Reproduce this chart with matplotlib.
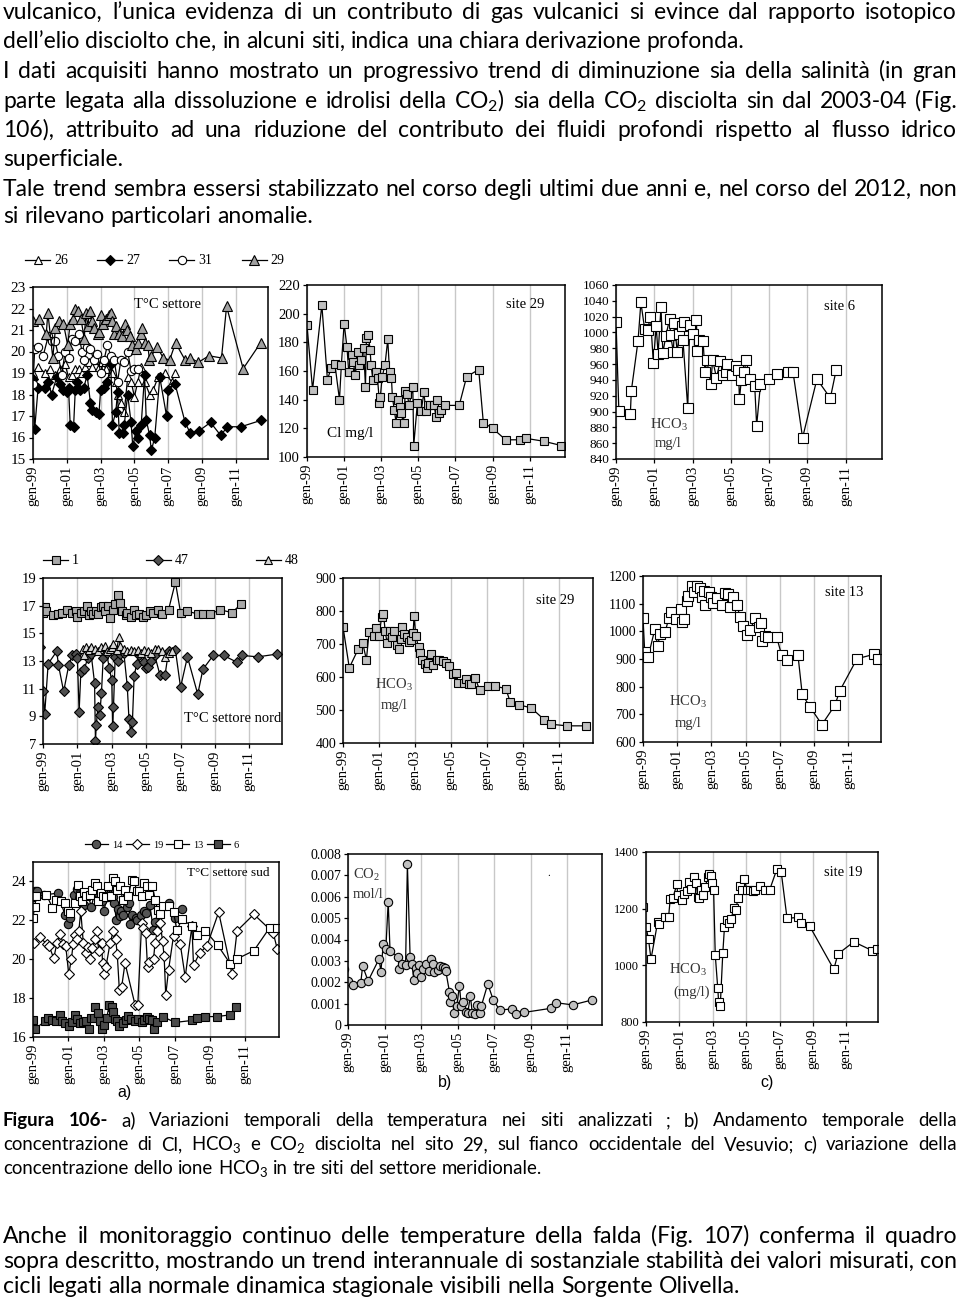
import matplotlib
matplotlib.use('Agg')
import matplotlib.pyplot as plt
from matplotlib.transforms import IdentityTransform
from matplotlib.font_manager import FontProperties
from matplotlib.ticker import FuncFormatter

W, H = 960, 1302
SERIF = 'Liberation Serif'
SANS = 'Lato'
plt.rcParams['font.family'] = [SERIF, 'DejaVu Sans']

# ---------------- DATA ----------------
xtick_years = [1999, 2001, 2003, 2005, 2007, 2009, 2011]
xtick_labels = ['gen-99', 'gen-01', 'gen-03', 'gen-05', 'gen-07', 'gen-09', 'gen-11']

# Panel 1: T settore (sites 26, 27, 31, 29)
s26_x = [1999.0, 1999.3, 1999.7, 2000.0, 2000.3, 2000.6, 2000.9, 2001.1, 2001.3, 2001.5, 2001.7, 2001.9, 2002.1,
         2002.3, 2002.5, 2002.7, 2002.9, 2003.1, 2003.3, 2003.5, 2003.7, 2003.9, 2004.0, 2004.2, 2004.4, 2004.6,
         2004.8, 2005.0, 2005.2, 2005.4, 2005.6, 2005.9, 2006.1, 2006.4, 2006.8, 2007.2, 2007.4]
s26_y = [19.0, 19.3, 19.0, 19.2, 18.9, 19.2, 19.4, 18.8, 18.9, 19.2, 19.2, 19.0, 19.3,
         19.5, 19.3, 19.6, 19.3, 19.5, 19.2, 19.6, 19.0, 18.6, 18.0, 17.6, 17.2, 18.8,
         18.6, 17.9, 18.6, 19.3, 18.6, 18.0, 18.2, 18.8, 19.0, 18.6, 19.0]
s27_x = [1999.0, 1999.1, 1999.3, 1999.7, 1999.9, 2000.1, 2000.4, 2000.6, 2000.8, 2001.0, 2001.1, 2001.2, 2001.4,
         2001.5, 2001.6, 2001.8, 2002.0, 2002.2, 2002.4, 2002.5, 2002.7, 2002.9, 2003.0, 2003.2, 2003.4, 2003.6,
         2003.7, 2003.9, 2004.0, 2004.1, 2004.3, 2004.4, 2004.6, 2004.8, 2004.9, 2005.1, 2005.2, 2005.4, 2005.6,
         2005.7, 2005.9, 2006.0, 2006.2, 2006.5, 2006.9, 2007.0, 2007.4, 2008.0, 2008.3, 2008.8, 2009.5, 2010.1,
         2010.5, 2011.3, 2012.5]
s27_y = [18.7, 16.4, 18.3, 18.3, 18.6, 18.0, 18.8, 18.5, 18.2, 18.1, 18.3, 16.6, 16.5,
         18.2, 18.6, 18.2, 18.3, 18.9, 17.6, 17.3, 17.2, 17.1, 18.2, 18.3, 18.6, 19.4,
         16.6, 17.2, 18.1, 16.2, 16.2, 16.6, 18.0, 16.7, 15.6, 16.3, 16.0, 16.6, 18.9,
         16.8, 16.1, 15.4, 16.0, 18.8, 17.0, 18.2, 18.5, 16.7, 16.2, 16.3, 16.7, 16.1,
         16.5, 16.5, 16.8]
s31_x = [1999.0, 1999.1, 1999.3, 1999.6, 1999.9, 2000.1, 2000.3, 2000.5, 2000.7, 2000.9, 2001.1, 2001.3, 2001.5,
         2001.7, 2001.9, 2002.0, 2002.2, 2002.4, 2002.6, 2002.8, 2003.0, 2003.2, 2003.4, 2003.6, 2003.8, 2004.0,
         2004.2, 2004.4, 2004.6, 2004.8, 2005.0, 2005.2]
s31_y = [18.5, 20.1, 20.2, 19.8, 20.7, 20.5, 20.5, 19.8, 18.9, 20.0, 19.7, 20.6, 20.5,
         20.8, 20.0, 19.6, 20.2, 20.1, 19.6, 19.9, 19.0, 19.6, 20.3, 19.8, 19.6, 18.6,
         19.6, 19.5, 20.0, 19.1, 19.2, 19.2]
s29_x = [1999.0, 1999.35, 1999.78, 1999.88, 2000.17, 2000.33, 2000.53, 2000.8, 2001.05, 2001.2, 2001.35, 2001.5,
         2001.64, 2001.84, 2002.03, 2002.13, 2002.23, 2002.37, 2002.48, 2002.62, 2002.82, 2002.91, 2003.01, 2003.15,
         2003.31, 2003.5, 2003.6, 2003.7, 2003.79, 2003.93, 2004.09, 2004.28, 2004.44, 2004.58, 2004.71, 2004.87,
         2005.07, 2005.22, 2005.36, 2005.46, 2005.65, 2005.79, 2005.89, 2006.0, 2006.34, 2006.71, 2007.08, 2007.43,
         2008.0, 2008.3, 2008.78, 2009.41, 2010.15, 2010.45, 2011.43, 2012.46]
s29_y = [21.4, 21.5, 20.8, 21.8, 19.7, 21.1, 21.4, 21.3, 20.3, 21.3, 21.5, 22.0,
         21.9, 21.5, 20.6, 21.8, 21.2, 21.9, 21.4, 21.1, 20.8, 20.9, 21.7, 21.3,
         21.5, 21.7, 21.8, 21.4, 20.8, 21.2, 20.8, 20.7, 21.3, 21.0, 20.7, 20.3,
         20.1, 20.4, 20.8, 21.1, 20.4, 20.3, 19.6, 19.8, 20.2, 19.7, 19.6, 20.4,
         19.6, 19.7, 19.5, 19.8, 19.7, 22.1, 19.2, 20.4]

# Panel 2: Cl mg/l site 29
cl_x = [1998.75, 1999.0, 1999.3, 1999.8, 2000.1, 2000.3, 2000.5, 2000.75, 2000.85, 2001.0, 2001.15, 2001.25, 2001.4,
        2001.5, 2001.6, 2001.75, 2001.8, 2001.9, 2002.05, 2002.15, 2002.2, 2002.3, 2002.4, 2002.45, 2002.55, 2002.7,
        2002.8, 2002.9, 2002.95, 2003.05, 2003.2, 2003.35, 2003.45, 2003.55, 2003.6, 2003.7, 2003.8, 2003.9, 2004.0,
        2004.05, 2004.2, 2004.3, 2004.4, 2004.5, 2004.7, 2004.75, 2004.95, 2005.15, 2005.3, 2005.4, 2005.5, 2005.65,
        2005.85, 2005.95, 2006.0, 2006.1, 2006.2, 2006.45, 2007.2, 2007.6, 2008.25, 2008.5, 2009.0, 2009.7, 2010.5,
        2010.8, 2011.75, 2012.7]
cl_y = [175, 192, 147, 206, 154, 162, 165, 140, 164, 193, 177, 159, 171,
        166, 157, 173, 164, 168, 176, 149, 183, 185, 175, 164, 154, 159,
        155, 138, 142, 156, 164, 182, 159, 155, 142, 133, 124, 140, 135,
        131, 124, 146, 144, 136, 149, 108, 138, 132, 145, 132, 136, 136,
        136, 128, 140, 131, 133, 136, 136, 156, 161, 124, 120, 112, 112,
        113, 111, 108]

# Panel 3: HCO3 mg/l site 6
h6_x = [1999.0, 1999.15, 1999.75, 1999.8, 2000.15, 2000.3, 2000.5, 2000.65, 2000.8, 2000.95, 2001.1, 2001.2, 2001.35,
        2001.45, 2001.6, 2001.8, 2001.85, 2002.0, 2002.05, 2002.2, 2002.3, 2002.45, 2002.55, 2002.5, 2002.75, 2002.85,
        2003.0, 2003.2, 2003.25, 2003.35, 2003.55, 2003.65, 2003.75, 2003.95, 2004.05, 2004.25, 2004.45, 2004.6,
        2004.75, 2004.8, 2005.05, 2005.25, 2005.4, 2005.45, 2005.55, 2005.7, 2005.8, 2006.0, 2006.25, 2006.35,
        2006.55, 2007.0, 2007.4, 2008.0, 2008.25, 2008.75, 2009.5, 2010.2, 2010.5]
h6_y = [1013, 901, 897, 926, 989, 1038, 1004, 1003, 1020, 962, 1008, 973, 1032,
        974, 995, 1017, 997, 975, 1012, 975, 998, 1008, 1013, 990, 904, 1010,
        998, 1016, 977, 991, 989, 950, 965, 935, 965, 943, 964, 946,
        950, 960, 946, 958, 952, 916, 940, 950, 965, 941, 932, 882,
        935, 941, 947, 950, 950, 867, 941, 917, 952]

# Panel 4: T settore nord (sites 1, 47, 48)
n1_x = [1999.0, 1999.1, 1999.2, 1999.6, 1999.9, 2000.1, 2000.4, 2000.7, 2000.9, 2001.0, 2001.2, 2001.4, 2001.55,
        2001.7, 2001.8, 2001.9, 2002.1, 2002.2, 2002.4, 2002.5, 2002.6, 2002.8, 2002.9, 2003.1, 2003.2, 2003.35,
        2003.5, 2003.6, 2003.8, 2003.9, 2004.1, 2004.3, 2004.4, 2004.6, 2004.8, 2005.0, 2005.2, 2005.4, 2005.7,
        2005.9, 2006.3, 2006.7, 2007.0, 2007.4, 2008.0, 2008.3, 2008.7, 2009.3, 2010.0, 2010.5]
n1_y = [16.5, 16.9, 16.6, 16.3, 16.4, 16.5, 16.7, 16.5, 16.6, 16.2, 16.5, 16.6, 17.0,
        16.3, 16.6, 16.4, 16.6, 16.4, 16.9, 17.0, 16.6, 17.0, 16.1, 16.7, 17.1, 17.8,
        17.2, 16.6, 16.3, 16.5, 16.2, 16.7, 16.3, 16.4, 16.2, 16.3, 16.6, 16.5, 16.7,
        16.4, 16.7, 18.7, 16.5, 16.6, 16.4, 16.4, 16.4, 16.7, 16.5, 17.1]
n47_x = [1998.8, 1999.0, 1999.1, 1999.3, 1999.8, 1999.9, 2000.2, 2000.5, 2000.7, 2000.9, 2001.0, 2001.1, 2001.2,
         2001.4, 2001.6, 2001.8, 2002.0, 2002.05, 2002.1, 2002.2, 2002.3, 2002.4, 2002.5, 2002.7, 2002.85, 2003.0,
         2003.05, 2003.1, 2003.2, 2003.35, 2003.5, 2003.7, 2003.9, 2004.0, 2004.1, 2004.2, 2004.3, 2004.45, 2004.6,
         2004.9, 2005.0, 2005.1, 2005.3, 2005.5, 2005.8, 2006.1, 2006.3, 2006.7, 2007.0, 2007.4, 2008.0, 2008.3,
         2008.9, 2009.5, 2010.3, 2010.6, 2011.5, 2012.6]
n47_y = [14.0, 10.8, 9.2, 12.8, 13.7, 12.7, 10.8, 12.7, 13.4, 13.5, 13.2, 9.3, 12.2,
         12.4, 13.2, 13.5, 11.4, 7.2, 8.4, 9.7, 9.1, 10.7, 13.2, 13.6, 12.5, 11.6,
         8.3, 9.7, 13.3, 13.0, 13.5, 13.6, 11.2, 8.8, 7.9, 8.6, 11.9, 12.8, 13.4,
         12.9, 12.5, 12.6, 13.0, 13.4, 12.0, 12.0, 13.7, 13.8, 11.1, 13.3, 10.6, 12.4,
         13.4, 13.4, 12.9, 13.4, 13.3, 13.5]
n48_x = [2001.3, 2001.4, 2001.5, 2001.7, 2001.8, 2002.0, 2002.2, 2002.4, 2002.6, 2002.7, 2002.9, 2003.0, 2003.1,
         2003.3, 2003.4, 2003.5, 2003.7, 2003.9, 2004.1, 2004.3, 2004.5, 2004.7, 2004.9, 2005.1, 2005.3, 2005.5,
         2005.7, 2005.9, 2006.1, 2006.3, 2006.5]
n48_y = [13.9, 13.4, 14.0, 13.8, 14.0, 13.9, 13.7, 14.0, 14.1, 13.7, 13.9, 14.0, 14.2,
         13.8, 14.7, 14.1, 13.9, 13.7, 13.8, 13.7, 13.8, 13.6, 13.8, 13.7, 13.6, 13.9,
         13.9, 13.7, 13.3, 13.6, 13.7]

# Panel 5: HCO3 mg/l site 29
h29_x = [1999.0, 1999.35, 1999.85, 2000.1, 2000.3, 2000.45, 2000.7, 2000.85, 2001.0, 2001.15, 2001.25, 2001.35,
         2001.45, 2001.6, 2001.75, 2001.85, 2002.0, 2002.1, 2002.2, 2002.3, 2002.4, 2002.55, 2002.65, 2002.8,
         2002.9, 2002.95, 2003.05, 2003.2, 2003.3, 2003.4, 2003.55, 2003.65, 2003.75, 2003.9, 2004.0, 2004.2,
         2004.35, 2004.55, 2004.7, 2004.9, 2005.1, 2005.3, 2005.4, 2005.7, 2005.85, 2006.0, 2006.1, 2006.35,
         2006.6, 2007.05, 2007.45, 2008.05, 2008.3, 2008.8, 2009.45, 2010.2, 2010.55, 2011.45, 2012.5]
h29_y = [752, 628, 685, 702, 652, 735, 723, 747, 724, 782, 790, 738,
         703, 740, 720, 740, 698, 686, 715, 752, 729, 720, 705, 712,
         733, 785, 725, 690, 673, 650, 640, 628, 643, 671, 637, 653,
         650, 648, 642, 632, 610, 612, 582, 582, 593, 580, 578, 597,
         560, 572, 572, 565, 524, 515, 507, 470, 457, 452, 452]

# Panel 6: HCO3 mg/l site 13
h13_x = [1999.0, 1999.1, 1999.3, 1999.7, 1999.85, 2000.0, 2000.3, 2000.5, 2000.65, 2000.9, 2001.2, 2001.3, 2001.4,
         2001.55, 2001.65, 2001.85, 2001.95, 2002.15, 2002.35, 2002.45, 2002.55, 2002.65, 2002.85, 2002.95, 2003.1,
         2003.3, 2003.6, 2003.8, 2003.95, 2004.1, 2004.25, 2004.5, 2004.65, 2004.85, 2005.05, 2005.25, 2005.55,
         2005.75, 2005.9, 2005.95, 2006.1, 2006.3, 2006.8, 2007.1, 2007.4, 2008.05, 2008.3, 2008.75, 2009.45,
         2010.2, 2010.5, 2011.5, 2012.5, 2012.75]
h13_y = [1047, 926, 908, 1010, 947, 990, 998, 1047, 1071, 1043, 1079, 1035, 1043,
         1111, 1128, 1165, 1143, 1164, 1155, 1123, 1147, 1095, 1143, 1125, 1103,
         1119, 1095, 1137, 1135, 1089, 1123, 1095, 1053, 1019, 987, 1005, 1047,
         1017, 1031, 966, 983, 980, 980, 914, 896, 914, 772, 727, 663,
         732, 786, 901, 917, 899]

# Panel 7: T settore sud (sites 14, 19, 13, 6)
t14_x = [1999.0, 1999.1, 1999.2, 1999.6, 2000.4, 2000.8, 2001.0, 2001.1, 2001.3, 2001.5, 2001.7, 2001.9, 2002.1,
         2002.3, 2002.5, 2002.7, 2002.9, 2003.0, 2003.2, 2003.4, 2003.5, 2003.6, 2003.7, 2003.8, 2003.9, 2004.0,
         2004.1, 2004.3, 2004.4, 2004.5, 2004.6, 2004.8, 2004.9, 2005.1, 2005.3, 2005.4, 2005.6, 2005.8, 2005.9,
         2006.1, 2006.7, 2007.0, 2007.4]
t14_y = [23.2, 23.5, 23.5, 23.3, 23.4, 22.3, 21.8, 22.1, 23.3, 23.6, 23.1, 22.8, 23.3,
         22.7, 23.5, 23.4, 23.0, 22.5, 23.2, 23.5, 23.2, 22.9, 22.0, 22.6, 22.2, 22.5,
         22.3, 22.7, 22.9, 21.8, 22.3, 22.1, 22.0, 22.3, 22.5, 22.4, 22.8, 21.5, 21.9,
         22.5, 22.9, 22.1, 22.6]
t19_x = [1999.06, 1999.38, 1999.79, 1999.91, 2000.17, 2000.36, 2000.55, 2000.70, 2000.85, 2001.02, 2001.17, 2001.27,
         2001.36, 2001.50, 2001.59, 2001.70, 2001.84, 2001.97, 2002.08, 2002.21, 2002.36, 2002.50, 2002.59, 2002.72,
         2002.88, 2002.93, 2003.03, 2003.12, 2003.35, 2003.54, 2003.67, 2003.76, 2003.88, 2004.01, 2004.20, 2004.77,
         2004.92, 2005.14, 2005.24, 2005.37, 2005.47, 2005.56, 2005.81, 2005.90, 2006.03, 2006.18, 2006.32, 2006.41,
         2006.50, 2006.66, 2006.94, 2007.32, 2007.60, 2007.98, 2008.07, 2008.41, 2008.83, 2009.49, 2010.25, 2010.53,
         2011.48, 2012.57, 2012.80]
t19_y = [20.86, 21.12, 20.78, 20.68, 20.05, 20.86, 21.29, 20.78, 20.68, 19.22, 20.02, 20.78,
         21.24, 21.03, 21.46, 22.47, 20.86, 20.34, 20.61, 20.02, 20.56, 21.03, 21.46, 20.41,
         20.86, 19.80, 19.22, 19.59, 20.81, 21.46, 21.03, 20.27, 18.41, 18.58, 19.80, 17.64,
         17.64, 21.88, 21.59, 21.37, 19.59, 19.85, 20.02, 20.86, 21.46, 21.88, 20.95, 20.14,
         18.15, 19.46, 21.20, 20.78, 19.08, 21.71, 19.68, 20.31, 20.69, 22.42, 19.22, 21.46,
         22.31, 21.37, 20.53]
t13_x = [1999.00, 1999.09, 1999.19, 1999.76, 2000.10, 2000.32, 2000.61, 2000.80, 2000.95, 2001.08, 2001.36, 2001.55,
         2001.65, 2001.78, 2001.87, 2002.02, 2002.21, 2002.35, 2002.50, 2002.59, 2002.69, 2002.84, 2002.97, 2003.12,
         2003.25, 2003.40, 2003.54, 2003.63, 2003.76, 2003.91, 2004.07, 2004.20, 2004.39, 2004.58, 2004.73, 2004.86,
         2005.01, 2005.16, 2005.28, 2005.43, 2005.58, 2005.75, 2005.90, 2006.05, 2006.18, 2006.37, 2006.66, 2006.94,
         2007.13, 2007.41, 2007.98, 2008.26, 2008.74, 2009.43, 2010.15, 2010.53, 2011.48, 2012.38, 2012.76]
t13_y = [22.14, 22.68, 23.24, 23.32, 22.64, 23.07, 22.98, 22.90, 22.47, 22.39, 22.90, 23.83,
         23.24, 22.98, 23.44, 23.24, 23.32, 23.58, 23.92, 23.75, 22.98, 23.41, 23.24, 23.19,
         23.75, 23.24, 24.17, 24.00, 23.58, 23.75, 23.07, 23.58, 23.24, 24.08, 24.00, 23.49,
         23.49, 23.24, 23.92, 23.75, 23.32, 23.75, 23.07, 22.51, 22.31, 22.73, 22.73, 22.44,
         21.49, 22.05, 21.71, 21.24, 21.46, 20.73, 19.76, 20.02, 20.44, 21.63, 21.63]
t6_x = [1999.00, 1999.13, 1999.66, 1999.85, 2000.10, 2000.32, 2000.51, 2000.66, 2000.83, 2001.02, 2001.21, 2001.36,
        2001.50, 2001.65, 2001.84, 2001.99, 2002.14, 2002.27, 2002.44, 2002.53, 2002.69, 2002.78, 2002.91, 2003.03,
        2003.16, 2003.31, 2003.44, 2003.54, 2003.63, 2003.76, 2003.88, 2004.07, 2004.26, 2004.39, 2004.54, 2004.77,
        2004.95, 2005.14, 2005.28, 2005.43, 2005.56, 2005.71, 2005.84, 2005.99, 2006.32, 2007.03, 2007.98, 2008.26,
        2008.74, 2009.40, 2010.15, 2010.49]
t6_y = [16.85, 16.42, 16.80, 16.97, 16.85, 16.83, 17.14, 16.80, 16.71, 16.59, 16.75, 17.14,
        16.92, 16.71, 16.75, 16.80, 16.42, 16.97, 16.97, 17.56, 17.25, 16.80, 16.41, 16.63,
        16.97, 17.64, 17.56, 17.31, 16.92, 16.80, 16.58, 16.71, 16.88, 17.08, 16.93, 16.80,
        16.92, 16.75, 16.88, 17.02, 16.92, 16.85, 16.42, 16.75, 17.05, 16.75, 16.85, 16.97,
        17.05, 17.05, 17.14, 17.56]

# Panel 8: CO2 mol/l site 29
co2_x = [1998.8, 1999.0, 1999.3, 1999.7, 1999.8, 2000.1, 2000.7, 2000.8, 2000.93, 2001.07, 2001.2, 2001.3, 2001.75,
         2001.8, 2001.95, 2002.15, 2002.25, 2002.4, 2002.5, 2002.6, 2002.7, 2002.78, 2002.9, 2003.0, 2003.13, 2003.27,
         2003.45, 2003.55, 2003.65, 2003.7, 2003.9, 2004.05, 2004.2, 2004.3, 2004.35, 2004.55, 2004.6, 2004.7, 2004.8,
         2004.95, 2005.1, 2005.2, 2005.3, 2005.45, 2005.55, 2005.7, 2005.8, 2005.95, 2006.05, 2006.2, 2006.3, 2006.65,
         2006.95, 2007.3, 2007.95, 2008.2, 2008.65, 2010.1, 2010.4, 2011.3, 2012.35]
co2_y = [0.0026, 0.00206, 0.00187, 0.00198, 0.00276, 0.00206, 0.00309, 0.0025, 0.00379, 0.00354, 0.00577, 0.00348,
         0.00317, 0.0026, 0.00287, 0.00279, 0.00752, 0.00317, 0.00287, 0.00211, 0.00268, 0.00242, 0.0028, 0.00226,
         0.00261, 0.00286, 0.00254, 0.00309, 0.00287, 0.0025, 0.00257, 0.00276, 0.00273, 0.00265, 0.00253, 0.00156,
         0.00109, 0.00136, 0.00055, 0.0009, 0.00183, 0.00087, 0.00107, 0.00062, 0.00055, 0.00137, 0.00055, 0.00052,
         0.00094, 0.00055, 0.0009, 0.00192, 0.00117, 0.0007, 0.00075, 0.00052, 0.00059, 0.00078, 0.00104, 0.00094,
         0.00117]

# Panel 9: HCO3 mg/l site 19
h19_x = [1998.85, 1999.0, 1999.15, 1999.3, 1999.7, 1999.8, 2000.15, 2000.35, 2000.45, 2000.6, 2000.85, 2000.9,
         2001.15, 2001.3, 2001.45, 2001.6, 2001.7, 2001.85, 2002.0, 2002.1, 2002.2, 2002.3, 2002.4, 2002.55, 2002.7,
         2002.8, 2002.9, 2002.95, 2003.05, 2003.15, 2003.3, 2003.35, 2003.45, 2003.6, 2003.7, 2003.85, 2003.95,
         2004.1, 2004.25, 2004.4, 2004.5, 2004.65, 2004.75, 2004.9, 2005.05, 2005.25, 2005.4, 2005.55, 2005.85,
         2006.1, 2006.4, 2006.85, 2007.1, 2007.45, 2008.1, 2008.3, 2008.8, 2010.25, 2010.5, 2011.45, 2012.55, 2012.85]
h19_y = [1207, 1136, 1092, 1022, 1153, 1145, 1169, 1169, 1234, 1236, 1286, 1247,
         1232, 1253, 1261, 1294, 1271, 1312, 1291, 1242, 1238, 1267, 1249, 1276, 1312,
         1321, 1314, 1289, 1265, 1036, 919, 872, 857, 1042, 1134, 1160, 1148,
         1162, 1201, 1195, 1239, 1279, 1267, 1303, 1265, 1265, 1263, 1265, 1279,
         1265, 1265, 1341, 1330, 1166, 1169, 1151, 1139, 986, 1040, 1083, 1052, 1056]

# ---------------- FIGURE ----------------
fig = plt.figure(figsize=(9.6, 13.02), dpi=100)
R = fig.canvas.get_renderer()
ID = IdentityTransform()


def add_ax(x0, y0, x1, y1):
    return fig.add_axes([x0 / W, 1 - y1 / H, (x1 - x0) / W, (y1 - y0) / H])


def style(ax, ylim, yticks, yfs=10.5, fmt=None):
    ax.set_xlim(1999.0, 2012.9)
    ax.set_ylim(*ylim)
    ax.set_xticks(xtick_years)
    ax.set_xticklabels(xtick_labels, rotation=90)
    ax.set_yticks(yticks)
    if fmt is not None:
        ax.yaxis.set_major_formatter(FuncFormatter(fmt))
    ax.grid(axis='x', color='#c8c8c8', lw=1.0)
    ax.set_axisbelow(True)
    for s in ax.spines.values():
        s.set_linewidth(1.1)
    ax.tick_params(direction='out', length=3, width=0.9, pad=2)
    ax.tick_params(axis='x', labelsize=10.5)
    ax.tick_params(axis='y', labelsize=yfs)


def series(ax, x, y, marker, fc, ms=5.5, lw=0.9, ec='black'):
    ln, = ax.plot(x, y, '-', color='black', lw=lw, marker=marker, ms=ms, mfc=fc, mec=ec, mew=0.8)
    return ln


def ptext(x, y, s, size=10, family=SERIF, ha='center', va='center', color='black', weight='normal'):
    fig.text(x, H - y, s, transform=ID, fontsize=size, family=family, ha=ha, va=va, color=color,
             weight=weight)


def legend(ax, handles, labels, x, y, fs, hl, cs, htp=0.3):
    ax.legend(handles, labels, loc='center left', bbox_to_anchor=(x / W, 1 - y / H),
              bbox_transform=fig.transFigure, ncol=len(handles), frameon=False,
              prop={'family': SERIF, 'size': fs}, handlelength=hl, columnspacing=cs,
              handletextpad=htp, borderpad=0, borderaxespad=0)


HCO3 = r'$\mathregular{HCO_3}$'

# Panel 1
ax1 = add_ax(33, 287, 268, 459)
style(ax1, (15, 23), range(15, 24), yfs=11)
l26 = series(ax1, s26_x, s26_y, '^', 'white', ms=6)
l27 = series(ax1, s27_x, s27_y, 'D', 'black', ms=5)
l31 = series(ax1, s31_x, s31_y, 'o', 'white', ms=6)
l29 = series(ax1, s29_x, s29_y, '^', '#a0a0a0', ms=6.5)
legend(ax1, [l26, l27, l31, l29], ['26', '27', '31', '29'], 25, 261, 10, 1.8, 2.1)
ptext(167, 305, 'T°C settore', size=10.5)

# Panel 2
ax2 = add_ax(307, 285, 565, 457)
style(ax2, (100, 220), range(100, 221, 20), yfs=10.5)
series(ax2, cl_x, cl_y, 's', '#c0c0c0', ms=5.5)
ptext(525, 305, 'site 29', size=10.5)
ptext(350, 433, 'Cl mg/l', size=11)

# Panel 3
ax3 = add_ax(616, 285, 882, 459)
style(ax3, (840, 1060), range(840, 1061, 20), yfs=9.5)
series(ax3, h6_x, h6_y, 's', 'white', ms=7)
ptext(840, 306, 'site 6', size=10.5)
ptext(669, 425, HCO3, color='#333333', size=10.5)
ptext(668, 444, 'mg/l', color='#333333', size=10.5)

# Panel 4
ax4 = add_ax(43, 578, 282, 744)
style(ax4, (7, 19), range(7, 20, 2), yfs=10.5)
ln1 = series(ax4, n1_x, n1_y, 's', '#a8a8a8')
ln47 = series(ax4, n47_x, n47_y, 'D', '#505050', ms=4.8)
ln48 = series(ax4, n48_x, n48_y, '^', '#d8d8d8', ms=6)
legend(ax4, [ln1, ln47, ln48], ['1', '47', '48'], 43, 561, 10, 1.8, 4.8)
ptext(233, 719, 'T°C settore nord', size=10.5)

# Panel 5
ax5 = add_ax(343, 578, 593, 743)
style(ax5, (400, 900), range(400, 901, 100), yfs=10)
series(ax5, h29_x, h29_y, 's', '#c0c0c0', ms=5.8)
ptext(555, 600, 'site 29', size=10.5)
ptext(394, 685, HCO3, color='#333333', size=10.5)
ptext(394, 706, 'mg/l', color='#333333', size=10.5)

# Panel 6
ax6 = add_ax(643, 576, 881, 742)
style(ax6, (600, 1200), range(600, 1201, 100), yfs=10)
series(ax6, h13_x, h13_y, 's', 'white', ms=7)
ptext(844, 593, 'site 13', size=10.5)
ptext(688, 702, HCO3, color='#333333', size=10.5)
ptext(688, 724, 'mg/l', color='#333333', size=10.5)

# Panel 7
ax7 = add_ax(33, 862, 279, 1037)
style(ax7, (16, 25), range(16, 25, 2), yfs=10.5)
k14 = series(ax7, t14_x, t14_y, 'o', '#555555', ms=6)
k19 = series(ax7, t19_x, t19_y, 'D', 'white', ms=5)
k13 = series(ax7, t13_x, t13_y, 's', 'white', ms=6)
k6 = series(ax7, t6_x, t6_y, 's', '#4a4a4a', ms=6)
legend(ax7, [k14, k19, k13, k6], ['14', '19', '13', '6'], 85, 845, 7.5, 2.2, 0.3, htp=0.4)
ptext(228, 873, 'T°C settore sud', size=9.5)

# Panel 8
ax8 = add_ax(348, 854, 602, 1025)
style(ax8, (0, 0.008), [i / 1000 for i in range(0, 9)], yfs=10,
      fmt=lambda v, p: '0' if abs(v) < 1e-9 else f'{v:.3f}')
series(ax8, co2_x, co2_y, 'o', '#c0c0c0', ms=6)
ptext(366, 875, r'$\mathregular{CO_2}$', color='#333333', size=10.5)
ptext(368, 894, 'mol/l', color='#333333', size=10.5)
ptext(549, 874, '.', size=8)

# Panel 9
ax9 = add_ax(646, 852, 878, 1022)
style(ax9, (800, 1400), range(800, 1401, 200), yfs=9)
series(ax9, h19_x, h19_y, 's', 'white', ms=6)
ptext(843, 873, 'site 19', size=10.5)
ptext(688, 970, HCO3, color='#333333', size=10.5)
ptext(692, 992, '(mg/l)', color='#333333', size=10.5)

# sub-figure letters
ptext(125, 1093, 'a)', size=11.5, family='Liberation Sans')
ptext(445, 1082, 'b)', size=11.5, family='Liberation Sans')
ptext(767, 1082, 'c)', size=11.5, family='Liberation Sans')

# ---------------- BODY TEXT ----------------


def width(s, fp):
    t = fig.text(0, 0, s, fontproperties=fp, transform=ID)
    w = t.get_window_extent(R).width
    t.remove()
    return w


def fit_size(prefix, target):
    fp = FontProperties(family=SANS, size=12)
    return 12 * target / width(prefix, fp)


def jline(words, x0, x1, y, size, justify=True, bold_n=0):
    fps = [FontProperties(family=SANS, size=size, weight='bold' if i < bold_n else 'normal')
           for i in range(len(words))]
    ws = [width(w, fp) for w, fp in zip(words, fps)]
    if justify:
        gap = (x1 - x0 - sum(ws)) / (len(words) - 1)
    else:
        gap = width('a a', fps[-1]) - width('aa', fps[-1])
    x = x0
    for w, fp, wd in zip(words, fps, ws):
        fig.text(x, H - y, w, fontproperties=fp, transform=ID, va='baseline', ha='left')
        x += wd + gap


CO2 = r'$\mathregular{CO_2}$'
top_lines = [
    ("vulcanico, l’unica evidenza di un contributo di gas vulcanici si evince dal rapporto isotopico", True, 19),
    ("dell’elio disciolto che, in alcuni siti, indica una chiara derivazione profonda.", False, 48),
    ("I dati acquisiti hanno mostrato un progressivo trend di diminuzione sia della salinità (in gran", True, 78),
    ("parte legata alla dissoluzione e idrolisi della " + CO2 + ") sia della " + CO2 +
     " disciolta sin dal 2003-04 (Fig.", True, 108),
    ("106), attribuito ad una riduzione del contributo dei fluidi profondi rispetto al flusso idrico", True, 137),
    ("superficiale.", False, 166),
    ("Tale trend sembra essersi stabilizzato nel corso degli ultimi due anni e, nel corso del 2012, non", True, 196),
    ("si rilevano particolari anomalie.", False, 223),
]
s_top = fit_size("dell’elio disciolto che, in alcuni siti, indica una ch", 478)
for s, j, y in top_lines:
    jline(s.split(' '), 3, 957, y, s_top, justify=j)

cap_lines = [
    ("Figura 106-  a) Variazioni temporali della temperatura nei siti analizzati ; b)  Andamento temporale della",
     True, 1126),
    ("concentrazione di Cl, " + HCO3 + " e " + CO2 +
     " disciolta nel sito 29, sul fianco occidentale del Vesuvio; c) variazione della", True, 1150),
    ("concentrazione dello ione " + HCO3 + " in tre siti del settore meridionale.", False, 1174),
]
s_cap = fit_size("concentrazione dello ione HCO3 in tre siti del settore meri", 478)
for i, (s, j, y) in enumerate(cap_lines):
    words = [w for w in s.split(' ') if w != '']
    jline(words, 3, 957, y, s_cap, justify=j, bold_n=2 if i == 0 else 0)

bot_lines = [
    ("Anche il monitoraggio continuo delle temperature della falda (Fig. 107) conferma il quadro", True, 1243),
    ("sopra descritto, mostrando un trend interannuale di sostanziale stabilità dei valori misurati, con",
     True, 1268),
    ("cicli legati alla normale dinamica stagionale visibili nella Sorgente Olivella.", False, 1293),
]
s_bot = fit_size("cicli legati alla normale dinamica stagionale visib", 481)
for s, j, y in bot_lines:
    jline(s.split(' '), 3, 957, y, s_bot, justify=j)

fig.savefig('out.png', dpi=100)
